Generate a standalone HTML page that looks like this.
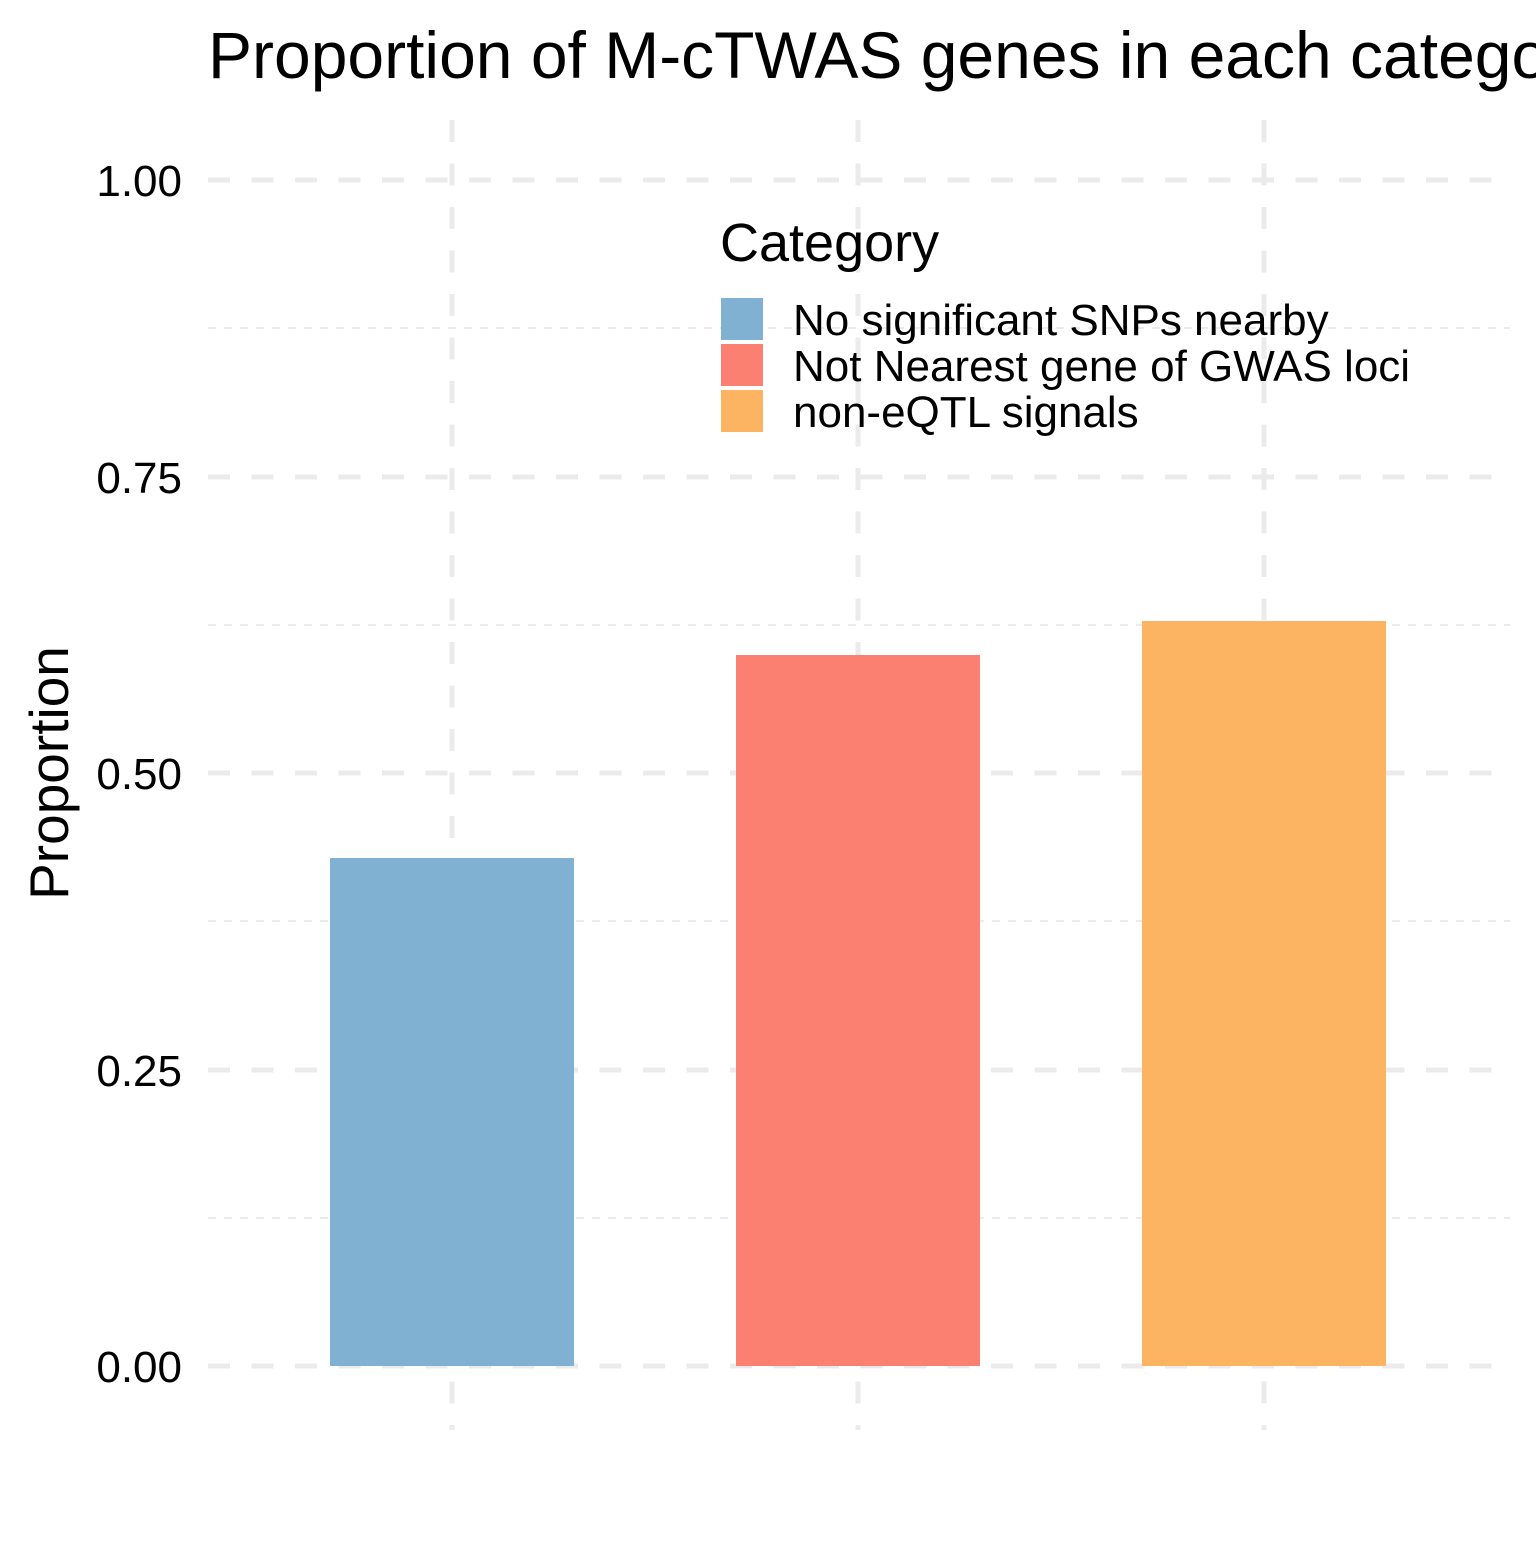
<!DOCTYPE html>
<html><head><style>
body{margin:0;background:#fff;}
svg text{font-family:"Liberation Sans",Arial,sans-serif;}
</style></head><body>
<svg width="1536" height="1536" viewBox="0 0 1536 1536" xmlns="http://www.w3.org/2000/svg">
<rect width="1536" height="1536" fill="#fff"/>
<g stroke="#ebebeb" stroke-width="2" stroke-dasharray="8,8">
<line x1="208" x2="1510" y1="1218" y2="1218"/>
<line x1="208" x2="1510" y1="921" y2="921"/>
<line x1="208" x2="1510" y1="625" y2="625"/>
<line x1="208" x2="1510" y1="328" y2="328"/>
</g>
<g stroke="#ebebeb" stroke-width="5" stroke-dasharray="22,21.5">
<line x1="208" x2="1510" y1="1366" y2="1366"/>
<line x1="208" x2="1510" y1="1070" y2="1070"/>
<line x1="208" x2="1510" y1="773" y2="773"/>
<line x1="208" x2="1510" y1="477" y2="477"/>
<line x1="208" x2="1510" y1="180" y2="180"/>
<line x1="452" x2="452" y1="120" y2="1430"/>
<line x1="858" x2="858" y1="120" y2="1430"/>
<line x1="1264" x2="1264" y1="120" y2="1430"/>
</g>
<rect x="330" y="858" width="244" height="508" fill="#80b1d3"/>
<rect x="736" y="655" width="244" height="711" fill="#fb8072"/>
<rect x="1142" y="621" width="244" height="745" fill="#fdb462"/>
<g font-size="44" fill="#000" text-anchor="end">
<text x="182" y="1382">0.00</text>
<text x="182" y="1086">0.25</text>
<text x="182" y="789">0.50</text>
<text x="182" y="493">0.75</text>
<text x="182" y="196">1.00</text>
</g>
<text x="68" y="773" font-size="55" text-anchor="middle" transform="rotate(-90 68 773)">Proportion</text>
<text x="208" y="78" font-size="66">Proportion of M-cTWAS genes in each category</text>
<text x="720" y="261" font-size="54">Category</text>
<rect x="721" y="298" width="42" height="42" fill="#80b1d3"/>
<rect x="721" y="344" width="42" height="42" fill="#fb8072"/>
<rect x="721" y="390" width="42" height="42" fill="#fdb462"/>
<g font-size="44">
<text x="793" y="335">No significant SNPs nearby</text>
<text x="793" y="381">Not Nearest gene of GWAS loci</text>
<text x="793" y="427">non-eQTL signals</text>
</g>
</svg>
</body></html>
